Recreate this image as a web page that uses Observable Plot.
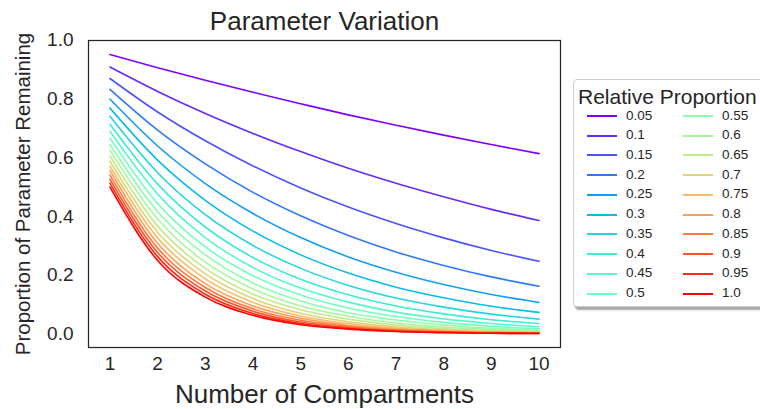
<!DOCTYPE html>
<html>
<head>
<meta charset="utf-8">
<script src="https://cdn.jsdelivr.net/npm/d3@7"></script>
<script src="https://cdn.jsdelivr.net/npm/@observablehq/plot@0.6"></script>
<style>
  html, body { margin: 0; padding: 0; background: #fff; }
  #wrap { position: relative; width: 760px; height: 409px; overflow: hidden; font-family: "Liberation Sans", Arial, sans-serif; color: #262626; }
  #legend { position: absolute; left: 573px; top: 79px; width: 195px; height: 226px; border: 1px solid #cfcfcf; border-radius: 4px; background: #fff; box-shadow: 2px 3px 2px rgba(0,0,0,0.35); }
  #legend .ttl { position: absolute; left: 4px; top: 5px; font-size: 21px; white-space: nowrap; }
  #legend .sw { position: absolute; width: 30px; height: 2px; }
  #legend .lb { position: absolute; font-size: 13.5px; line-height: 14px; white-space: nowrap; }
</style>
</head>
<body>
<div id="wrap"></div>
<script>
// ---- data ----
const compartments = [1, 2, 3, 4, 5, 6, 7, 8, 9, 10];
const proportions = ["0.05","0.1","0.15","0.2","0.25","0.3","0.35","0.4","0.45","0.5",
                     "0.55","0.6","0.65","0.7","0.75","0.8","0.85","0.9","0.95","1.0"];
const yTicks = [0, 0.2, 0.4, 0.6, 0.8, 1.0];

const p05  = [0.952, 0.907, 0.864, 0.823, 0.784, 0.746, 0.711, 0.677, 0.645, 0.614];
const p10  = [0.909, 0.826, 0.751, 0.683, 0.621, 0.564, 0.513, 0.467, 0.424, 0.386];
const p15  = [0.870, 0.756, 0.658, 0.572, 0.497, 0.432, 0.376, 0.327, 0.284, 0.247];
const p20  = [0.833, 0.694, 0.579, 0.482, 0.402, 0.335, 0.279, 0.233, 0.194, 0.162];
const p25  = [0.800, 0.640, 0.512, 0.410, 0.328, 0.262, 0.210, 0.168, 0.134, 0.107];
const p30  = [0.769, 0.592, 0.455, 0.350, 0.269, 0.207, 0.159, 0.123, 0.094, 0.073];
const p35  = [0.741, 0.549, 0.406, 0.301, 0.223, 0.165, 0.122, 0.091, 0.067, 0.050];
const p40  = [0.714, 0.510, 0.364, 0.260, 0.186, 0.133, 0.095, 0.068, 0.048, 0.035];
const p45  = [0.690, 0.476, 0.328, 0.226, 0.156, 0.108, 0.074, 0.051, 0.035, 0.024];
const p50  = [0.667, 0.444, 0.296, 0.198, 0.132, 0.088, 0.059, 0.039, 0.026, 0.017];
const p55  = [0.645, 0.416, 0.269, 0.173, 0.112, 0.072, 0.047, 0.030, 0.019, 0.012];
const p60  = [0.625, 0.391, 0.244, 0.153, 0.095, 0.060, 0.037, 0.023, 0.015, 0.009];
const p65  = [0.606, 0.367, 0.223, 0.135, 0.082, 0.050, 0.030, 0.018, 0.011, 0.007];
const p70  = [0.588, 0.346, 0.204, 0.120, 0.070, 0.041, 0.024, 0.014, 0.008, 0.005];
const p75  = [0.571, 0.327, 0.187, 0.107, 0.061, 0.035, 0.020, 0.011, 0.006, 0.004];
const p80  = [0.556, 0.309, 0.171, 0.095, 0.053, 0.029, 0.016, 0.009, 0.005, 0.003];
const p85  = [0.541, 0.292, 0.158, 0.085, 0.046, 0.025, 0.013, 0.007, 0.004, 0.002];
const p90  = [0.526, 0.277, 0.146, 0.077, 0.040, 0.021, 0.011, 0.006, 0.003, 0.002];
const p95  = [0.513, 0.263, 0.135, 0.069, 0.035, 0.018, 0.009, 0.005, 0.002, 0.001];
const p100 = [0.500, 0.250, 0.125, 0.063, 0.031, 0.016, 0.008, 0.004, 0.002, 0.001];

const seriesValues = [p05, p10, p15, p20, p25, p30, p35, p40, p45, p50,
                      p55, p60, p65, p70, p75, p80, p85, p90, p95, p100];

// ---- table for Plot ----
const rows = [];
proportions.forEach((p, i) => {
  seriesValues[i].forEach((v, j) => rows.push({series: p, n: compartments[j], value: v}));
});

// matplotlib "rainbow" colormap
function rainbow(t) {
  const c = v => Math.round(Math.max(0, Math.min(1, v)) * 255);
  return `rgb(${c(Math.abs(2 * t - 0.5))},${c(Math.sin(Math.PI * t))},${c(Math.cos(Math.PI * t / 2))})`;
}
const colorRange = proportions.map((_, i) => rainbow(i / (proportions.length - 1)));

const ink = "#262626";
const chart = Plot.plot({
  width: 760,
  height: 409,
  marginLeft: 88,
  marginRight: 200,
  marginTop: 40,
  marginBottom: 62,
  style: {fontFamily: '"Liberation Sans", Arial, sans-serif', color: ink, background: "transparent", overflow: "visible"},
  x: {domain: [0.55, 10.45]},
  y: {domain: [-0.0466, 0.9995]},
  color: {type: "ordinal", domain: proportions, range: colorRange},
  marks: [
    Plot.line(rows, {x: "n", y: "value", z: "series", stroke: "series", strokeWidth: 1.6, curve: "monotone-x"}),
    Plot.frame({stroke: ink, strokeWidth: 1.25}),
    Plot.axisX({ticks: compartments, tickSize: 0, tickPadding: 9, fontSize: 19, label: null, tickFormat: d => String(d)}),
    Plot.axisY({ticks: yTicks, tickSize: 0, tickPadding: 15, fontSize: 19, label: null, tickFormat: d3.format(".1f")}),
    Plot.text(["Parameter Variation"], {frameAnchor: "top", textAnchor: "middle", lineAnchor: "middle", dy: -19, fontSize: 26, fill: ink}),
    Plot.text(["Number of Compartments"], {frameAnchor: "bottom", textAnchor: "middle", lineAnchor: "middle", dy: 47, fontSize: 26, fill: ink}),
    Plot.text(["Proportion of Parameter Remaining"], {frameAnchor: "left", textAnchor: "middle", lineAnchor: "middle", dx: -65, rotate: -90, fontSize: 20.5, fill: ink})
  ]
});

const wrap = document.getElementById("wrap");
wrap.appendChild(chart);

// ---- legend ----
const colorScale = chart.scale("color");
const legend = document.createElement("div");
legend.id = "legend";
const ttl = document.createElement("div");
ttl.className = "ttl";
ttl.textContent = "Relative Proportion";
legend.appendChild(ttl);
const perCol = 10;
proportions.forEach((p, i) => {
  const col = Math.floor(i / perCol), row = i % perCol;
  const cy = 36 + row * 19.74;
  const x0 = 13 + col * 96;
  const sw = document.createElement("div");
  sw.className = "sw";
  sw.style.left = x0 + "px";
  sw.style.top = Math.round(cy - 1) + "px";
  sw.style.background = colorScale.apply(p);
  legend.appendChild(sw);
  const lb = document.createElement("div");
  lb.className = "lb";
  lb.style.left = (x0 + 39) + "px";
  lb.style.top = Math.round(cy - 7.5) + "px";
  lb.textContent = p;
  legend.appendChild(lb);
});
wrap.appendChild(legend);
</script>
</body>
</html>
